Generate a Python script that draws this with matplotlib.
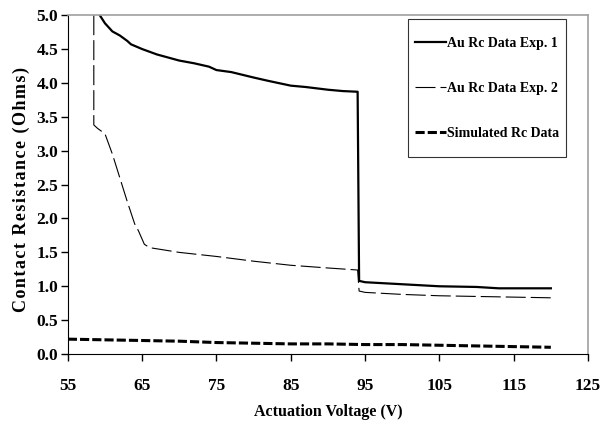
import matplotlib
matplotlib.use("Agg")
import matplotlib.pyplot as plt
import numpy as np
from matplotlib.lines import Line2D
from matplotlib.legend_handler import HandlerLine2D

# Experiment 1 data
exp1_v = [59.3, 60.0, 61.0, 62.0, 63.0, 63.5, 65.0, 67.0, 70.0, 72.0, 74.0, 75.0, 77.0, 80.0, 82.0, 85.0, 87.0, 90.0, 92.0, 94.0, 94.2, 95.0, 100.0, 105.0, 110.0, 113.0, 116.0, 120.0]
exp1_r = [5.0, 4.88, 4.76, 4.70, 4.62, 4.57, 4.50, 4.42, 4.33, 4.29, 4.24, 4.19, 4.16, 4.08, 4.03, 3.96, 3.94, 3.90, 3.88, 3.87, 1.08, 1.06, 1.03, 1.00, 0.99, 0.97, 0.97, 0.97]

# Experiment 2 data
exp2_v = [58.5, 58.5, 59.0, 60.0, 61.0, 62.0, 63.0, 64.0, 64.5, 65.3, 66.0, 70.0, 75.0, 80.0, 85.0, 90.0, 94.0, 94.2, 95.0, 100.0, 105.0, 110.0, 115.0, 120.0]
exp2_r = [5.0, 3.38, 3.33, 3.25, 2.95, 2.60, 2.25, 1.92, 1.82, 1.62, 1.57, 1.50, 1.44, 1.37, 1.31, 1.27, 1.24, 0.93, 0.91, 0.88, 0.86, 0.85, 0.84, 0.83]

# Simulated data
sim_v = [55, 60, 65, 70, 75, 80, 85, 90, 95, 100, 105, 110, 115, 120]
sim_r = [0.22, 0.21, 0.20, 0.19, 0.17, 0.16, 0.15, 0.15, 0.14, 0.14, 0.13, 0.12, 0.11, 0.10]

x_ticks = [55, 65, 75, 85, 95, 105, 115, 125]
y_ticks = [0.0, 0.5, 1.0, 1.5, 2.0, 2.5, 3.0, 3.5, 4.0, 4.5, 5.0]

plt.rcParams['font.family'] = ['Liberation Serif', 'DejaVu Serif']
plt.rcParams['font.weight'] = 'bold'


class CenteredLineHandler(HandlerLine2D):
    def __init__(self, shift, **kw):
        super().__init__(**kw)
        self._shift = shift

    def create_artists(self, legend, orig_handle, xdescent, ydescent, width, height, fontsize, trans):
        arts = super().create_artists(legend, orig_handle, xdescent, ydescent, width, height, fontsize, trans)
        for a in arts:
            if isinstance(a, Line2D):
                a.set_ydata(np.asarray(a.get_ydata(), dtype=float) - self._shift * fontsize)
        return arts


fig = plt.figure(figsize=(6, 4.21), dpi=100)
ax = fig.add_axes([0.113, 0.159, 0.867, 0.805])

ax.plot(exp1_v, exp1_r, color='black', lw=1.6, label='Au Rc Data Exp. 1')
ax.plot(exp2_v, exp2_r, color='black', lw=0.8, dashes=(18, 4.5), label='Au Rc Data Exp. 2')
ax.plot(sim_v, sim_r, color='black', lw=2.2, dashes=(3, 1), label='Simulated Rc Data')

ax.set_xlim(55, 125)
ax.set_ylim(0, 5)
ax.set_xticks(x_ticks)
ax.set_yticks(y_ticks)
ax.set_xticklabels([str(t) for t in x_ticks], fontsize=12.5, fontweight='bold')
ax.set_yticklabels([f"{t:.1f}" for t in y_ticks], fontsize=12.5, fontweight='bold')
ax.tick_params(axis='both', direction='out', length=5, width=1, color='black')
ax.tick_params(axis='x', pad=12)
ax.tick_params(axis='y', pad=2)

ax.spines['left'].set_color('black')
ax.spines['bottom'].set_color('black')
ax.spines['top'].set_color('#a0a0a0')
ax.spines['right'].set_color('#a0a0a0')
ax.spines['top'].set_linewidth(1.2)
ax.spines['right'].set_linewidth(1.2)

ax.set_xlabel('Actuation Voltage (V)', fontsize=11.5, fontweight='bold', labelpad=7.5)
hair = '\u200a'
ax.set_ylabel(hair.join('Contact Resistance (Ohms)'), fontsize=13, fontweight='bold')
ax.yaxis.set_label_coords(-0.072, 0.485)

leg = ax.legend(loc='upper right', bbox_to_anchor=(0.958, 0.988), frameon=True,
                fancybox=False, edgecolor='black', handlelength=2.2, handletextpad=0.1,
                handleheight=3.4, labelspacing=0.77, borderpad=0.5, borderaxespad=0.0,
                prop={'weight': 'bold', 'size': 10},
                handler_map={Line2D: CenteredLineHandler(0.42)})
leg.get_frame().set_linewidth(0.8)

fig.savefig('out.png', dpi=100)
